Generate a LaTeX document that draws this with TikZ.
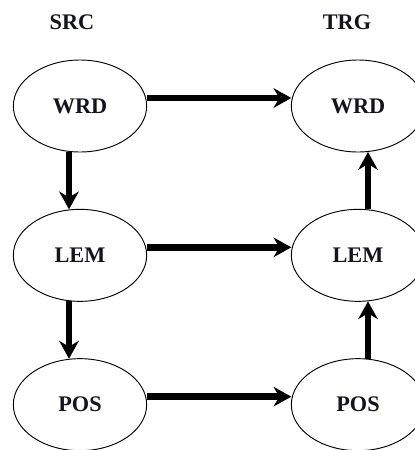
\documentclass[tikz,border=0pt]{standalone}
\usepackage{fontspec}
\setmainfont{Liberation Serif}
\usepackage{tikz}
\usetikzlibrary{shapes.geometric, arrows.meta, positioning}
\usepackage{xcolor}
\definecolor{cInk}{RGB}{20,20,30}
\tikzset{
  levelnode/.style={ellipse, draw=black, line width=0.8pt, fill=white,
                    minimum width=4.0cm, minimum height=2.76cm, outer sep=0pt,
                    text=cInk, font=\fontsize{19}{22}\selectfont\bfseries},
  sidelabel/.style={inner sep=0pt, text=cInk,
                    font=\fontsize{19}{22}\selectfont\bfseries},
  thickarrow/.style={-{Stealth[length=0.54cm, width=0.6cm, inset=0.18cm, line width=0pt]},
                     line width=0.2cm, color=black}
}

\begin{document}
\begin{tikzpicture}
  \useasboundingbox (0,0) rectangle (12.45,-13.5);

  % Source side
  \node[levelnode] (swrd) at (2.4,-3.18) {WRD};
  \node[levelnode, below=1.72cm of swrd] (slem) {LEM};
  \node[levelnode, below=1.72cm of slem] (spos) {POS};

  % Target side
  \node[levelnode, right=4.34cm of swrd] (twrd) {WRD};
  \node[levelnode, right=4.34cm of slem] (tlem) {LEM};
  \node[levelnode, right=4.34cm of spos] (tpos) {POS};

  % Column headers
  \node[sidelabel, above=0.9cm of swrd, xshift=-0.24cm] (src) {SRC};
  \node[sidelabel, above=0.9cm of twrd, xshift=-0.33cm] (trg) {TRG};

  % Arrows
  \draw[thickarrow] ([yshift=0.24cm]swrd.east) -- ([yshift=0.24cm]twrd.west);
  \draw[thickarrow] ([yshift=0.24cm]slem.east) -- ([yshift=0.24cm]tlem.west);
  \draw[thickarrow] ([yshift=0.24cm]spos.east) -- ([yshift=0.24cm]tpos.west);
  \draw[thickarrow] ([xshift=-0.33cm]swrd.south) -- ([xshift=-0.33cm]slem.north);
  \draw[thickarrow] ([xshift=-0.33cm]slem.south) -- ([xshift=-0.33cm]spos.north);
  \draw[thickarrow] ([xshift=0.3cm]tpos.north) -- ([xshift=0.3cm]tlem.south);
  \draw[thickarrow] ([xshift=0.3cm]tlem.north) -- ([xshift=0.3cm]twrd.south);

\end{tikzpicture}
\end{document}
